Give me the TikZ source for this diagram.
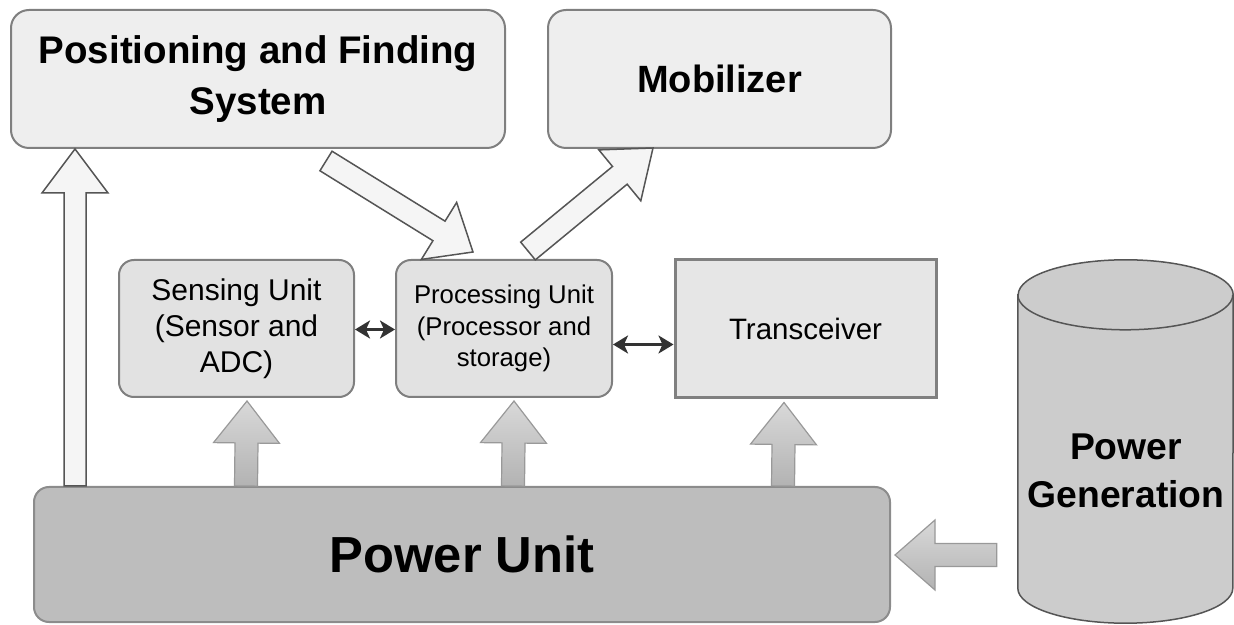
\documentclass[tikz,border=0pt]{standalone}
\usepackage{fontspec}
\setmainfont{Liberation Sans}
\usetikzlibrary{calc,arrows.meta}

\definecolor{topfill}{HTML}{EEEEEE}
\definecolor{unitfill}{HTML}{E2E2E2}
\definecolor{trfill}{HTML}{E6E6E6}
\definecolor{powfill}{HTML}{BDBDBD}
\definecolor{cylfill}{HTML}{CCCCCC}
\definecolor{edge}{HTML}{7F7F7F}
\definecolor{darkedge}{HTML}{555555}

% block arrow: style, tail, tip, shaft half width, head half width, head length
\newcommand\blockarrow[6]{%
  \coordinate (ba-h) at ($(#3)!#6!(#2)$);
  \path[#1] ($(#2)!#4!90:(#3)$) -- ($(ba-h)!#4!90:(#3)$) -- ($(ba-h)!#5!90:(#3)$) -- (#3)
    -- ($(ba-h)!#5!-90:(#3)$) -- ($(ba-h)!#4!-90:(#3)$) -- ($(#2)!#4!-90:(#3)$) -- cycle;
}

\begin{document}
\begin{tikzpicture}[x=1pt,y=1pt,
  topbox/.style={draw=edge, line width=2pt, fill=topfill, rounded corners=18pt,
    align=center, inner sep=0pt},
  unitbox/.style={draw=edge, line width=2pt, fill=unitfill, rounded corners=15pt,
    align=center, inner sep=0pt, minimum height=137pt},
  hollowarrow/.style={draw=darkedge, line width=1.5pt, fill=white!96!black, line join=miter},
  powerarrow/.style={draw=black!40, line width=1.2pt, top color=black!15, bottom color=black!30},
  link/.style={line width=3pt, draw=black!80,
    {Stealth[length=15pt,width=18pt,inset=4pt]}-{Stealth[length=15pt,width=18pt,inset=4pt]}},
]
\useasboundingbox (0,0) rectangle (1234,624);

% upper boxes
\node[topbox, minimum width=494pt, minimum height=138pt,
  font=\fontsize{38.5}{51}\selectfont\bfseries] (pfs) at (258,545)
  {Positioning and Finding\\System};
\node[topbox, minimum width=343pt, minimum height=138pt,
  font=\fontsize{38}{48}\selectfont\bfseries] (mob) at (719.5,545) {Mobilizer};

% middle units
\node[unitbox, minimum width=235pt, font=\fontsize{30}{36}\selectfont] (sens) at (236.5,295.5)
  {Sensing Unit\\(Sensor and\\ADC)};
\node[unitbox, minimum width=216pt, font=\fontsize{25.7}{31.5}\selectfont] (proc) at (504,295.5)
  {Processing Unit\\(Processor and\\storage)};
\node[draw=black!50, line width=3pt, fill=trfill, minimum width=261pt, minimum height=138pt,
  inner sep=0pt, font=\fontsize{29.5}{36}\selectfont] (trans) at (805.5,295) {Transceiver};

% power unit
\node[draw=black!45, line width=2pt, fill=powfill, rounded corners=15pt,
  minimum width=856pt, minimum height=135pt, inner sep=0pt,
  font=\fontsize{50.7}{60}\selectfont\bfseries] (pow) at (462,69.5) {Power Unit};

% power generation cylinder
\node[minimum width=215pt, minimum height=363pt, inner sep=0pt] (gen) at (1125.5,182.5) {};
\path[fill=cylfill, draw=darkedge, line width=1.5pt]
  ($(gen.north west)+(0,-35)$) -- ($(gen.south west)+(0,35)$)
  arc[start angle=180, end angle=360, x radius=107.5pt, y radius=35pt]
  -- ($(gen.north east)+(0,-35)$)
  arc[start angle=0, end angle=180, x radius=107.5pt, y radius=35pt] -- cycle;
\draw[darkedge, line width=1.5pt] ($(gen.north west)+(0,-35)$)
  arc[start angle=180, end angle=360, x radius=107.5pt, y radius=35pt];
\node[align=center, font=\fontsize{37.3}{48}\selectfont\bfseries] (gentext) at (1126,153)
  {Power\\Generation};

% anchor points of the block arrows
\coordinate (upS) at ($(pow.north west)+(42,0)$);
\coordinate (upT) at ($(pfs.south west)+(65,0)$);
\coordinate (senS) at ($(pow.north west)+(213,0)$);
\coordinate (senT) at ($(sens.south)+(10.5,-3)$);
\coordinate (proS) at ($(pow.north west)+(480,0)$);
\coordinate (proT) at ($(proc.south)+(10,-3)$);
\coordinate (traS) at ($(pow.north west)+(750,0)$);
\coordinate (traT) at ($(trans.south)+(-21.5,-3)$);
\coordinate (genS) at ($(gen.west)+(-21,-113.5)$);
\coordinate (genT) at ($(pow.east)+(4,-0.5)$);
\coordinate (pfsS) at ($(pfs.south west)+(316,-12)$);
\coordinate (pfsT) at ($(proc.north west)+(78,7)$);
\coordinate (mobS) at ($(proc.north west)+(133,8)$);
\coordinate (mobT) at ($(mob.south west)+(106,1)$);

% block arrows
\blockarrow{hollowarrow}{upS}{upT}{11pt}{33pt}{44pt}
\blockarrow{hollowarrow}{pfsS}{pfsT}{11.5pt}{33.5pt}{40pt}
\blockarrow{hollowarrow}{mobS}{mobT}{11.5pt}{33pt}{43pt}
\blockarrow{powerarrow}{senS}{senT}{11.5pt}{33pt}{42pt}
\blockarrow{powerarrow}{proS}{proT}{11.5pt}{33pt}{42pt}
\blockarrow{powerarrow}{traS}{traT}{11.5pt}{33pt}{42pt}
\blockarrow{powerarrow}{genS}{genT}{11.5pt}{35pt}{40pt}

% data links between the units
\coordinate (psA) at ($(sens.east)+(0,-1)$);
\coordinate (psB) at (proc.west |- psA);
\draw[link] (psA) -- (psB);
\coordinate (ptA) at ($(proc.east)+(0,-16)$);
\coordinate (ptB) at (trans.west |- ptA);
\draw[link] (ptA) -- (ptB);
\end{tikzpicture}
\end{document}
